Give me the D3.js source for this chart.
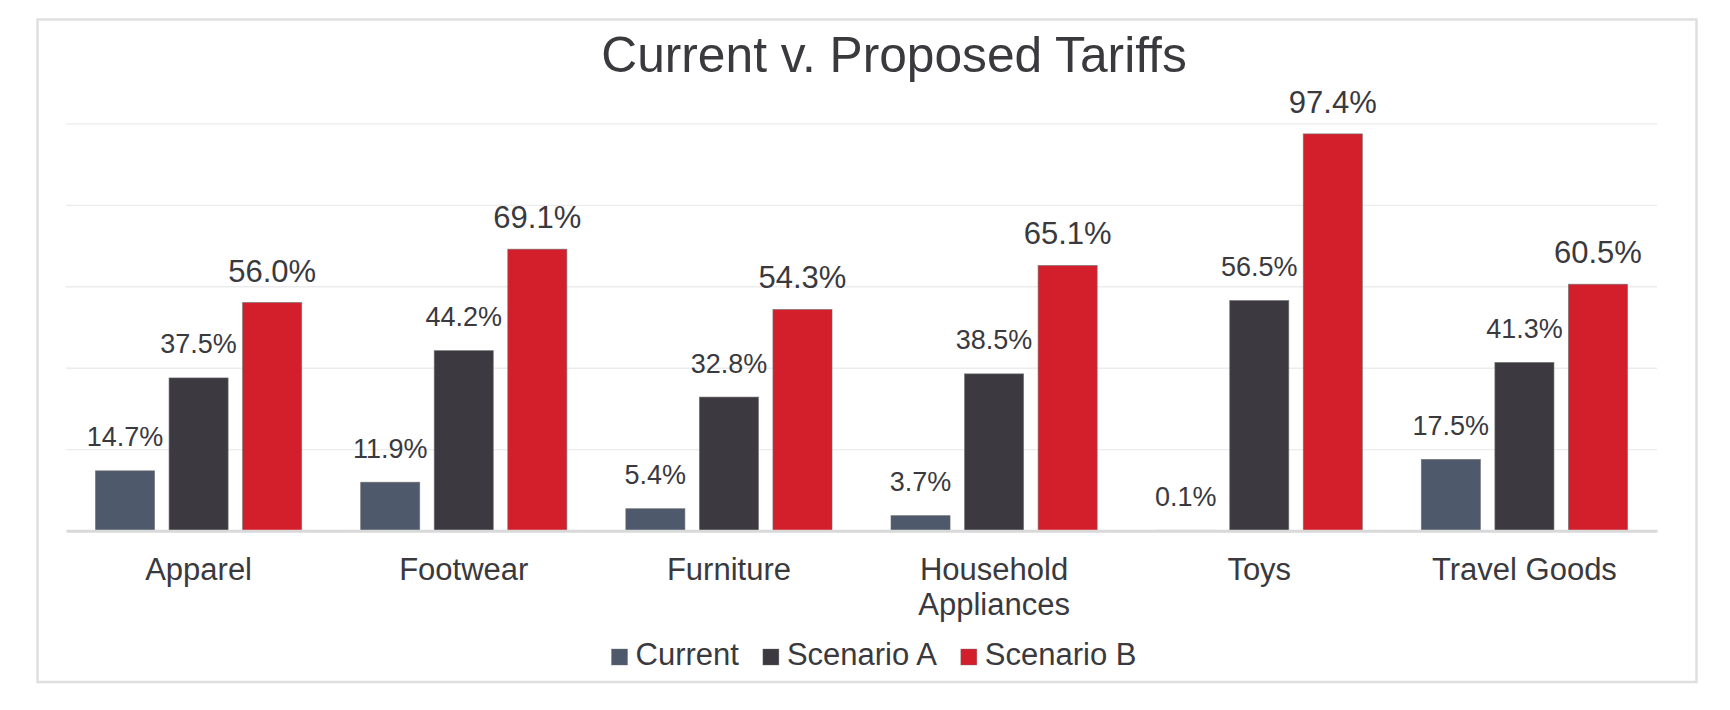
<!DOCTYPE html>
<html>
<head>
<meta charset="utf-8">
<script src="https://cdn.jsdelivr.net/npm/d3@7"></script>
<style>
  html, body { margin: 0; padding: 0; background: #ffffff; }
  svg { display: block; }
  text { font-family: "Liberation Sans", Arial, Helvetica, sans-serif; fill: #3a393e; }
</style>
</head>
<body>
<svg id="chart" width="1730" height="710"></svg>
<script>
// ---- data ----
const title = "Current v. Proposed Tariffs";
const categories = ["Apparel", "Footwear", "Furniture", "Household Appliances", "Toys", "Travel Goods"];
const seriesNames = ["Current", "Scenario A", "Scenario B"];
const currentValues = [14.7, 11.9, 5.4, 3.7, 0.1, 17.5];
const scenarioAValues = [37.5, 44.2, 32.8, 38.5, 56.5, 41.3];
const scenarioBValues = [56.0, 69.1, 54.3, 65.1, 97.4, 60.5];
const yTicks = [0, 20, 40, 60, 80, 100];
const seriesColors = ["#4e5a6b", "#3c3a40", "#d31f2c"];

const seriesValues = [currentValues, scenarioAValues, scenarioBValues];

// ---- layout ----
const svg = d3.select("#chart");
const plot = { left: 66, right: 1657, top: 123.3, bottom: 530.7 };

// frame
svg.append("rect")
  .attr("x", 37.5).attr("y", 19.5)
  .attr("width", 1659).attr("height", 662.5)
  .attr("fill", "#ffffff")
  .attr("stroke", "#dfdfdf").attr("stroke-width", 2.5);

// title
svg.append("text")
  .attr("x", 894).attr("y", 71.5)
  .attr("text-anchor", "middle")
  .style("font-size", "49.7px")
  .text(title);

// scales
const y = d3.scaleLinear().domain([0, 100]).range([plot.bottom, plot.top]);
const x0 = d3.scaleBand().domain(categories).range([plot.left, plot.right]).padding(0);
const x1 = d3.scaleBand().domain(seriesNames).range([0, x0.bandwidth()])
  .paddingInner(0.197).paddingOuter(0.401);

// gridlines
const yAxis = d3.axisLeft(y).tickValues(yTicks.filter(t => t > 0))
  .tickSize(-(plot.right - plot.left)).tickFormat("");
const gGrid = svg.append("g").attr("transform", `translate(${plot.left},0)`).call(yAxis);
gGrid.select(".domain").remove();
gGrid.selectAll(".tick line").attr("stroke", "#ececec").attr("stroke-width", 1.3);

// bars
const groups = svg.append("g").selectAll("g")
  .data(categories)
  .join("g")
  .attr("transform", d => `translate(${x0(d)},0)`);

groups.selectAll("rect")
  .data((c, ci) => seriesNames.map((s, si) => ({ s, si, v: seriesValues[si][ci] })))
  .join("rect")
  .attr("x", d => x1(d.s))
  .attr("width", x1.bandwidth())
  .attr("y", d => y(d.v))
  .attr("height", d => y(0) - y(d.v))
  .attr("fill", d => seriesColors[d.si])
  .attr("stroke", "rgba(110,110,110,0.75)")
  .attr("stroke-width", 0.8);

// data labels
groups.selectAll("text.val")
  .data((c, ci) => seriesNames.map((s, si) => ({ s, si, v: seriesValues[si][ci] })))
  .join("text")
  .attr("class", "val")
  .attr("x", d => x1(d.s) + x1.bandwidth() / 2)
  .attr("y", d => y(d.v) - (d.si === 2 ? 21 : 24.5))
  .attr("text-anchor", "middle")
  .style("font-size", d => d.si === 2 ? "31px" : "27px")
  .text(d => d.v.toFixed(1) + "%");

// baseline + category axis
const xAxis = d3.axisBottom(x0).tickSize(0).tickPadding(0);
const gx = svg.append("g").attr("transform", `translate(0,${plot.bottom})`).call(xAxis);
gx.select(".domain").attr("stroke", "#d9d9d9").attr("stroke-width", 3);
gx.selectAll(".tick text")
  .attr("fill", "#3a393e")
  .style("font-size", "31px")
  .style("font-family", "\"Liberation Sans\", Arial, sans-serif")
  .attr("y", 0).attr("dy", 0)
  .each(function (d) {
    const t = d3.select(this);
    const words = d.split(" ");
    t.text(null);
    let line = [];
    let lines = [];
    let tspan = t.append("tspan");
    words.forEach(w => {
      line.push(w);
      tspan.text(line.join(" "));
      if (tspan.node().getComputedTextLength() > 210 && line.length > 1) {
        line.pop();
        lines.push(line.join(" "));
        line = [w];
        tspan.text(w);
      }
    });
    lines.push(line.join(" "));
    t.text(null);
    lines.forEach((l, i) => {
      t.append("tspan").attr("x", 0).attr("y", 49 + i * 35.5).text(l);
    });
  });

// legend
const legend = svg.append("g");
const items = legend.selectAll("g").data(seriesNames).join("g");
items.append("rect")
  .attr("width", 16).attr("height", 16)
  .attr("y", 649)
  .attr("fill", (d, i) => seriesColors[i])
  .attr("stroke", "rgba(110,110,110,0.6)").attr("stroke-width", 0.6);
items.append("text")
  .attr("x", 24).attr("y", 665)
  .style("font-size", "31px")
  .text(d => d);
let offs = [];
let cur = 0;
items.each(function () {
  offs.push(cur);
  const w = d3.select(this).select("text").node().getComputedTextLength();
  cur += 24 + w + 24;
});
const totalW = cur - 24;
const startX = 874 - totalW / 2;
items.attr("transform", (d, i) => `translate(${startX + offs[i]},0)`);
</script>
</body>
</html>
